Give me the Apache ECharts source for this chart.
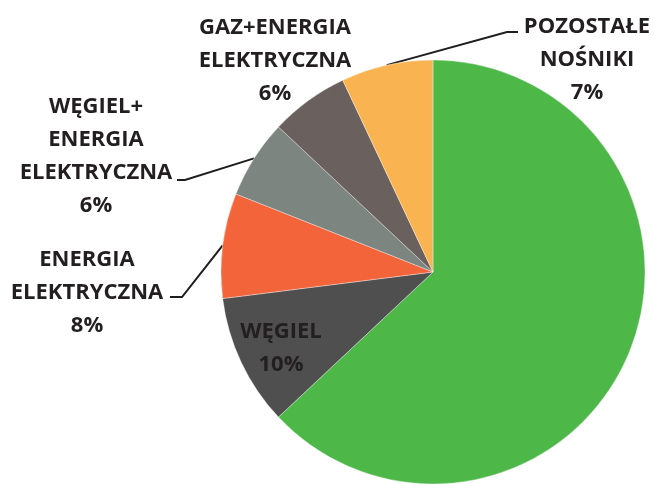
<!DOCTYPE html>
<html>
<head>
<meta charset="utf-8">
<script src="https://cdn.jsdelivr.net/npm/echarts@6/dist/echarts.min.js"></script>
<style>
html, body { margin: 0; padding: 0; background: #fff; }
#main { width: 654px; height: 484px; }
</style>
</head>
<body>
<div id="main"></div>
<script>
var categories = ['GAZ', 'WĘGIEL', 'ENERGIA\nELEKTRYCZNA', 'WĘGIEL+\nENERGIA\nELEKTRYCZNA', 'GAZ+ENERGIA\nELEKTRYCZNA', 'POZOSTAŁE\nNOŚNIKI'];
var shares = [63, 10, 8, 6, 6, 7];
var colors = ['#4db748', '#4f4f50', '#f3643b', '#7d8580', '#6a605d', '#f9b451'];

// label anchors (center x, top y) and leader bends
var labelPos = [[570, 325], [281, 315], [87, 243], [96, 90], [275, 11], [587, 10]];
var leaderPts = [null, null, [[182, 297], [170, 297]], [[185, 180], [177, 180]], null, [[507, 32], [518, 32]]];

var cx = 433, cy = 272, r = 212;

function midAngle(i) {
	var total = 0, before = 0;
	for (var k = 0; k < shares.length; k++) {
		total += shares[k];
		if (k < i) before += shares[k];
	}
	return (before + shares[i] / 2) / total * Math.PI * 2;
}

var data = [];
for (var i = 0; i < categories.length; i++) {
	data.push({
		name : categories[i],
		value : shares[i],
		itemStyle : { color : colors[i] },
		labelLine : { show : leaderPts[i] != null }
	});
}

var option = {
	backgroundColor : '#fff',
	animation : false,
	series : [ {
		type : 'pie',
		center : [ cx, cy ],
		radius : r,
		startAngle : 90,
		clockwise : true,
		data : data,
		itemStyle : {
			borderColor : 'rgba(255,255,255,0.35)',
			borderWidth : 1
		},
		label : {
			show : true,
			position : 'outside',
			formatter : '{b}\n{c}%',
			fontFamily : 'Open Sans',
			fontWeight : 'bold',
			fontSize : 22,
			lineHeight : 33,
			color : '#231f20'
		},
		labelLine : {
			show : true,
			lineStyle : { color : '#1e1e1e', width : 2 }
		},
		emphasis : { disabled : true },
		labelLayout : function(params) {
			var i = params.dataIndex;
			var out = {
				x : labelPos[i][0],
				y : labelPos[i][1],
				align : 'center',
				verticalAlign : 'top'
			};
			if (leaderPts[i]) {
				var a = midAngle(i);
				out.labelLinePoints = [ [ cx + r * Math.sin(a), cy - r * Math.cos(a) ],
						leaderPts[i][0], leaderPts[i][1] ];
			}
			return out;
		}
	} ]
};

var myChart = echarts.init(document.getElementById('main'));
myChart.setOption(option, true);
</script>
</body>
</html>
